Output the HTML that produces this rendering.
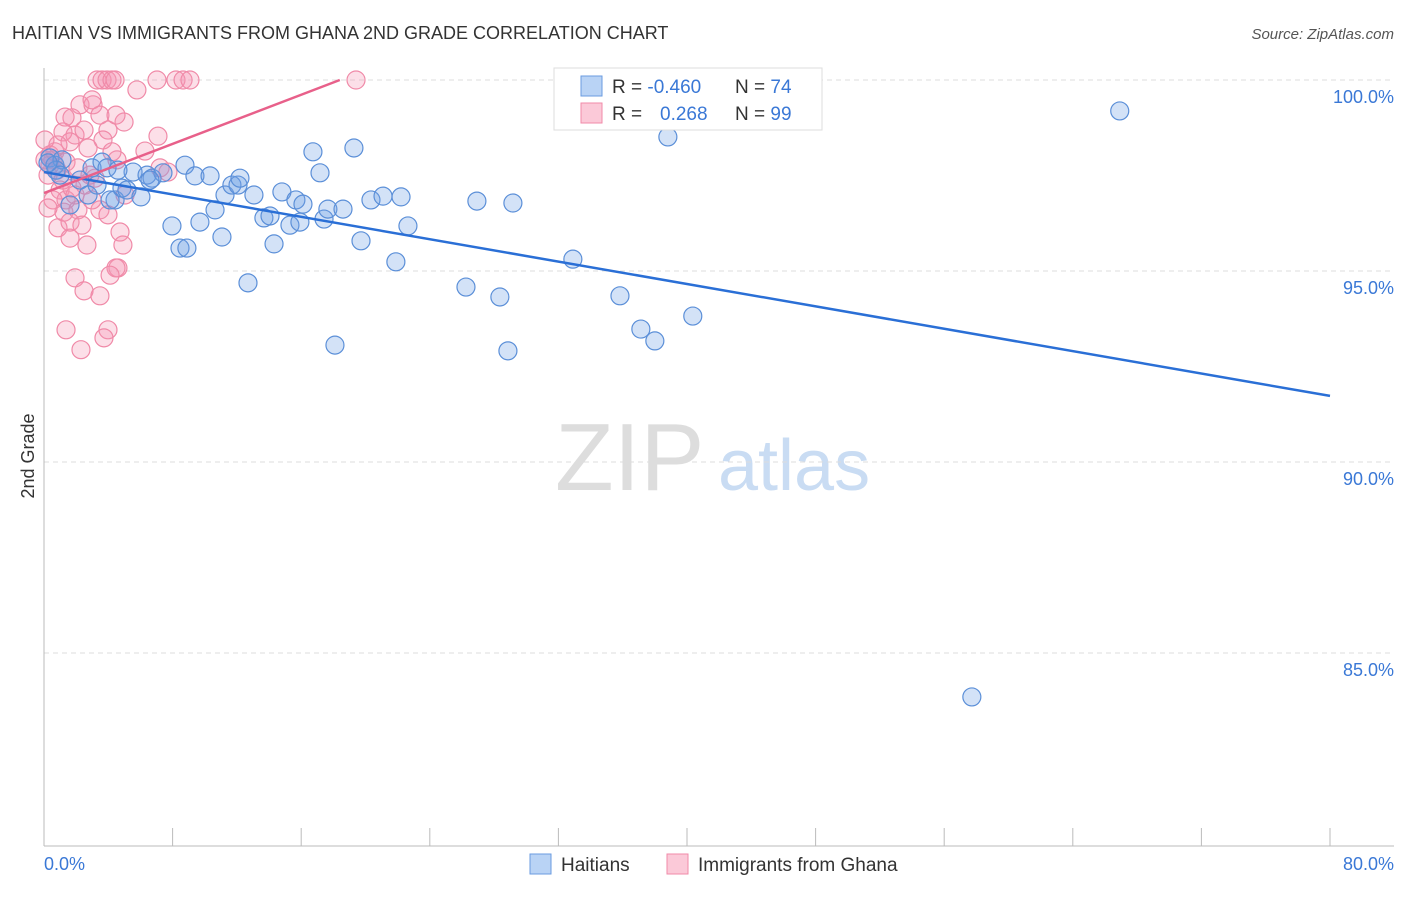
<!DOCTYPE html>
<html><head><meta charset="utf-8"><style>
body{margin:0;background:#fff;font-family:"Liberation Sans",sans-serif;}
svg text{font-family:"Liberation Sans",sans-serif;}
</style></head><body>
<svg id="chart" width="1406" height="892">
<text x="12" y="39" font-size="18" fill="#333">HAITIAN VS IMMIGRANTS FROM GHANA 2ND GRADE CORRELATION CHART</text>
<text x="1394" y="39" font-size="15" fill="#555" text-anchor="end" font-style="italic">Source: ZipAtlas.com</text>
<text x="555" y="490" font-size="96" fill="#ddd" font-family="Liberation Serif">ZIP</text>
<text x="718" y="490" font-size="72" fill="#c9dcf3">atlas</text>
<g id="grid"></g><g id="axes"></g><g id="marks"></g>
<text transform="translate(34,456) rotate(-90)" font-size="18" fill="#333" text-anchor="middle">2nd Grade</text>
<text x="44" y="870" font-size="18" fill="#3a78d6">0.0%</text>
<text x="1394" y="870" font-size="18" fill="#3a78d6" text-anchor="end">80.0%</text>
<g>
<rect x="554" y="68" width="268" height="62" fill="#fff" stroke="#ddd"/>
<rect x="581" y="76" width="21" height="20" fill="#b9d3f5" stroke="#6a9be0"/>
<rect x="581" y="103" width="21" height="20" fill="#fbc9d8" stroke="#f08aa8"/>
<text x="612" y="93" font-size="19" fill="#333">R = <tspan fill="#3a78d6">-0.460</tspan><tspan x="735">N = </tspan><tspan fill="#3a78d6">74</tspan></text>
<text x="612" y="120" font-size="19" fill="#333">R = <tspan x="660" fill="#3a78d6">0.268</tspan><tspan x="735">N = </tspan><tspan fill="#3a78d6">99</tspan></text>
</g>
<g>
<rect x="530" y="854" width="21" height="20" fill="#b9d3f5" stroke="#6a9be0"/>
<text x="561" y="871" font-size="19" fill="#333">Haitians</text>
<rect x="667" y="854" width="21" height="20" fill="#fbc9d8" stroke="#f08aa8"/>
<text x="698" y="871" font-size="19" fill="#333">Immigrants from Ghana</text>
</g>
</svg>
<script>
const yTicks=[100,95,90,85];
const yTickLabels=["100.0%","95.0%","90.0%","85.0%"];
const xTicks=[0,8,16,24,32,40,48,56,64,72,80];
const blueX=[0.37,0.68,1.12,1.62,2.24,2.99,3.30,3.61,3.92,4.42,4.85,5.16,5.54,6.03,6.41,6.72,7.40,7.96,8.46,8.77,8.89,9.39,9.70,10.33,10.64,11.07,11.26,11.69,12.07,12.19,12.69,13.06,13.68,14.06,14.31,14.80,15.30,15.67,15.92,16.11,16.73,17.17,17.42,17.66,18.10,18.60,19.28,19.72,20.34,21.09,21.89,22.21,22.64,26.25,26.93,28.36,28.86,29.17,32.90,35.83,37.13,38.00,38.81,40.36,57.72,66.92,32.41,0.75,1.00,2.74,4.11,4.60,6.59,0.25];
const blueY=[97.96,97.77,97.91,96.73,97.38,97.70,97.25,97.85,97.70,96.86,97.17,97.12,97.59,96.94,97.51,97.43,97.57,96.18,95.60,97.77,95.60,97.49,96.28,97.49,96.60,95.89,96.99,97.25,97.25,97.43,94.69,96.99,96.39,96.44,95.71,97.07,96.20,96.86,96.28,96.75,98.12,97.57,96.36,96.62,93.06,96.62,98.22,95.79,96.86,96.96,95.24,96.94,96.18,94.58,96.83,94.32,92.91,96.78,95.31,94.35,93.48,93.17,98.51,93.82,83.85,99.19,100,97.64,97.51,96.99,96.86,97.64,97.38,97.83];
const pinkX=[3.30,3.61,3.92,4.23,4.42,7.03,8.21,8.65,9.08,19.41,5.78,2.24,3.05,1.74,3.48,1.31,1.93,3.98,4.98,2.49,1.18,1.62,3.67,7.09,6.28,4.54,4.23,2.74,0.37,0.56,0.81,0.25,1.00,1.37,1.93,2.55,3.17,3.48,3.98,4.73,4.91,4.60,1.93,2.49,3.48,1.37,3.98,2.30,3.73,0.87,1.62,2.67,0.56,1.24,2.99,2.11,7.22,7.71,5.04,0.25,1.18,1.74,0.37,0.06,0.68,1.37,2.11,2.86,0.87,4.48,2.99,1.62,2.36,4.48,4.11,0.06];
const pinkY=[100,100,100,100,100,100,100,100,100,100,99.74,99.35,99.35,99.01,99.08,99.03,98.56,98.69,98.90,98.69,98.64,98.38,98.43,98.53,98.14,97.91,98.12,98.22,98.04,97.91,97.64,97.51,97.12,96.86,96.99,97.25,97.43,96.60,96.47,96.02,95.68,95.08,94.82,94.48,94.35,93.46,93.46,92.94,93.25,96.13,95.86,95.68,96.86,96.54,96.86,96.60,97.70,97.59,96.99,96.65,97.38,97.17,97.77,97.91,98.12,97.85,97.70,97.51,98.30,99.08,99.48,96.28,96.20,95.08,94.89,98.43];
const blueTrend=[[0,97.59],[80,91.73]];
const pinkTrend=[[0,97.04],[18.4,100]];
const X=v=>44+v/80*1286, Y=v=>80+(100-v)*38.2;
const NS="http://www.w3.org/2000/svg";
function mk(tag,attrs,parent){const e=document.createElementNS(NS,tag);for(const k in attrs)e.setAttribute(k,attrs[k]);parent.appendChild(e);return e;}
const grid=document.getElementById('grid'),axes=document.getElementById('axes'),marks=document.getElementById('marks');
yTicks.forEach((t,i)=>{
 const l=mk('line',{x1:44,x2:1394,y1:Y(t),y2:Y(t),stroke:'#ddd','stroke-dasharray':'5,4'},grid);
 
 
 const tx=mk('text',{x:1394,y:Y(t)+23,'font-size':18,fill:'#3a78d6','text-anchor':'end'},grid);
 tx.textContent=yTickLabels[i];
 
 
});
const ya=mk('line',{x1:44,x2:44,y1:68,y2:846,stroke:'#bbb'},axes);


const xa=mk('line',{x1:44,x2:1394,y1:846,y2:846,stroke:'#bbb'},axes);


xTicks.forEach(t=>{
 const l=mk('line',{x1:X(t),x2:X(t),y1:828,y2:846,stroke:'#bbb'},axes);
 
 
});
pinkX.forEach((v,i)=>{
 const c=mk('circle',{cx:X(v),cy:Y(pinkY[i]),r:9,fill:'rgba(245,150,180,0.3)',stroke:'#f08aa8','stroke-width':1.2},marks);
 
 
});
blueX.forEach((v,i)=>{
 const c=mk('circle',{cx:X(v),cy:Y(blueY[i]),r:9,fill:'rgba(110,160,230,0.3)',stroke:'#5b8fd8','stroke-width':1.2},marks);
 
 
});
const bl=mk('line',{x1:X(blueTrend[0][0]),y1:Y(blueTrend[0][1]),x2:X(blueTrend[1][0]),y2:Y(blueTrend[1][1]),stroke:'#2a6fd6','stroke-width':2.5},marks);


const pl=mk('line',{x1:X(pinkTrend[0][0]),y1:Y(pinkTrend[0][1]),x2:X(pinkTrend[1][0]),y2:Y(pinkTrend[1][1]),stroke:'#e8608a','stroke-width':2.5},marks);


</script>
</body></html>
